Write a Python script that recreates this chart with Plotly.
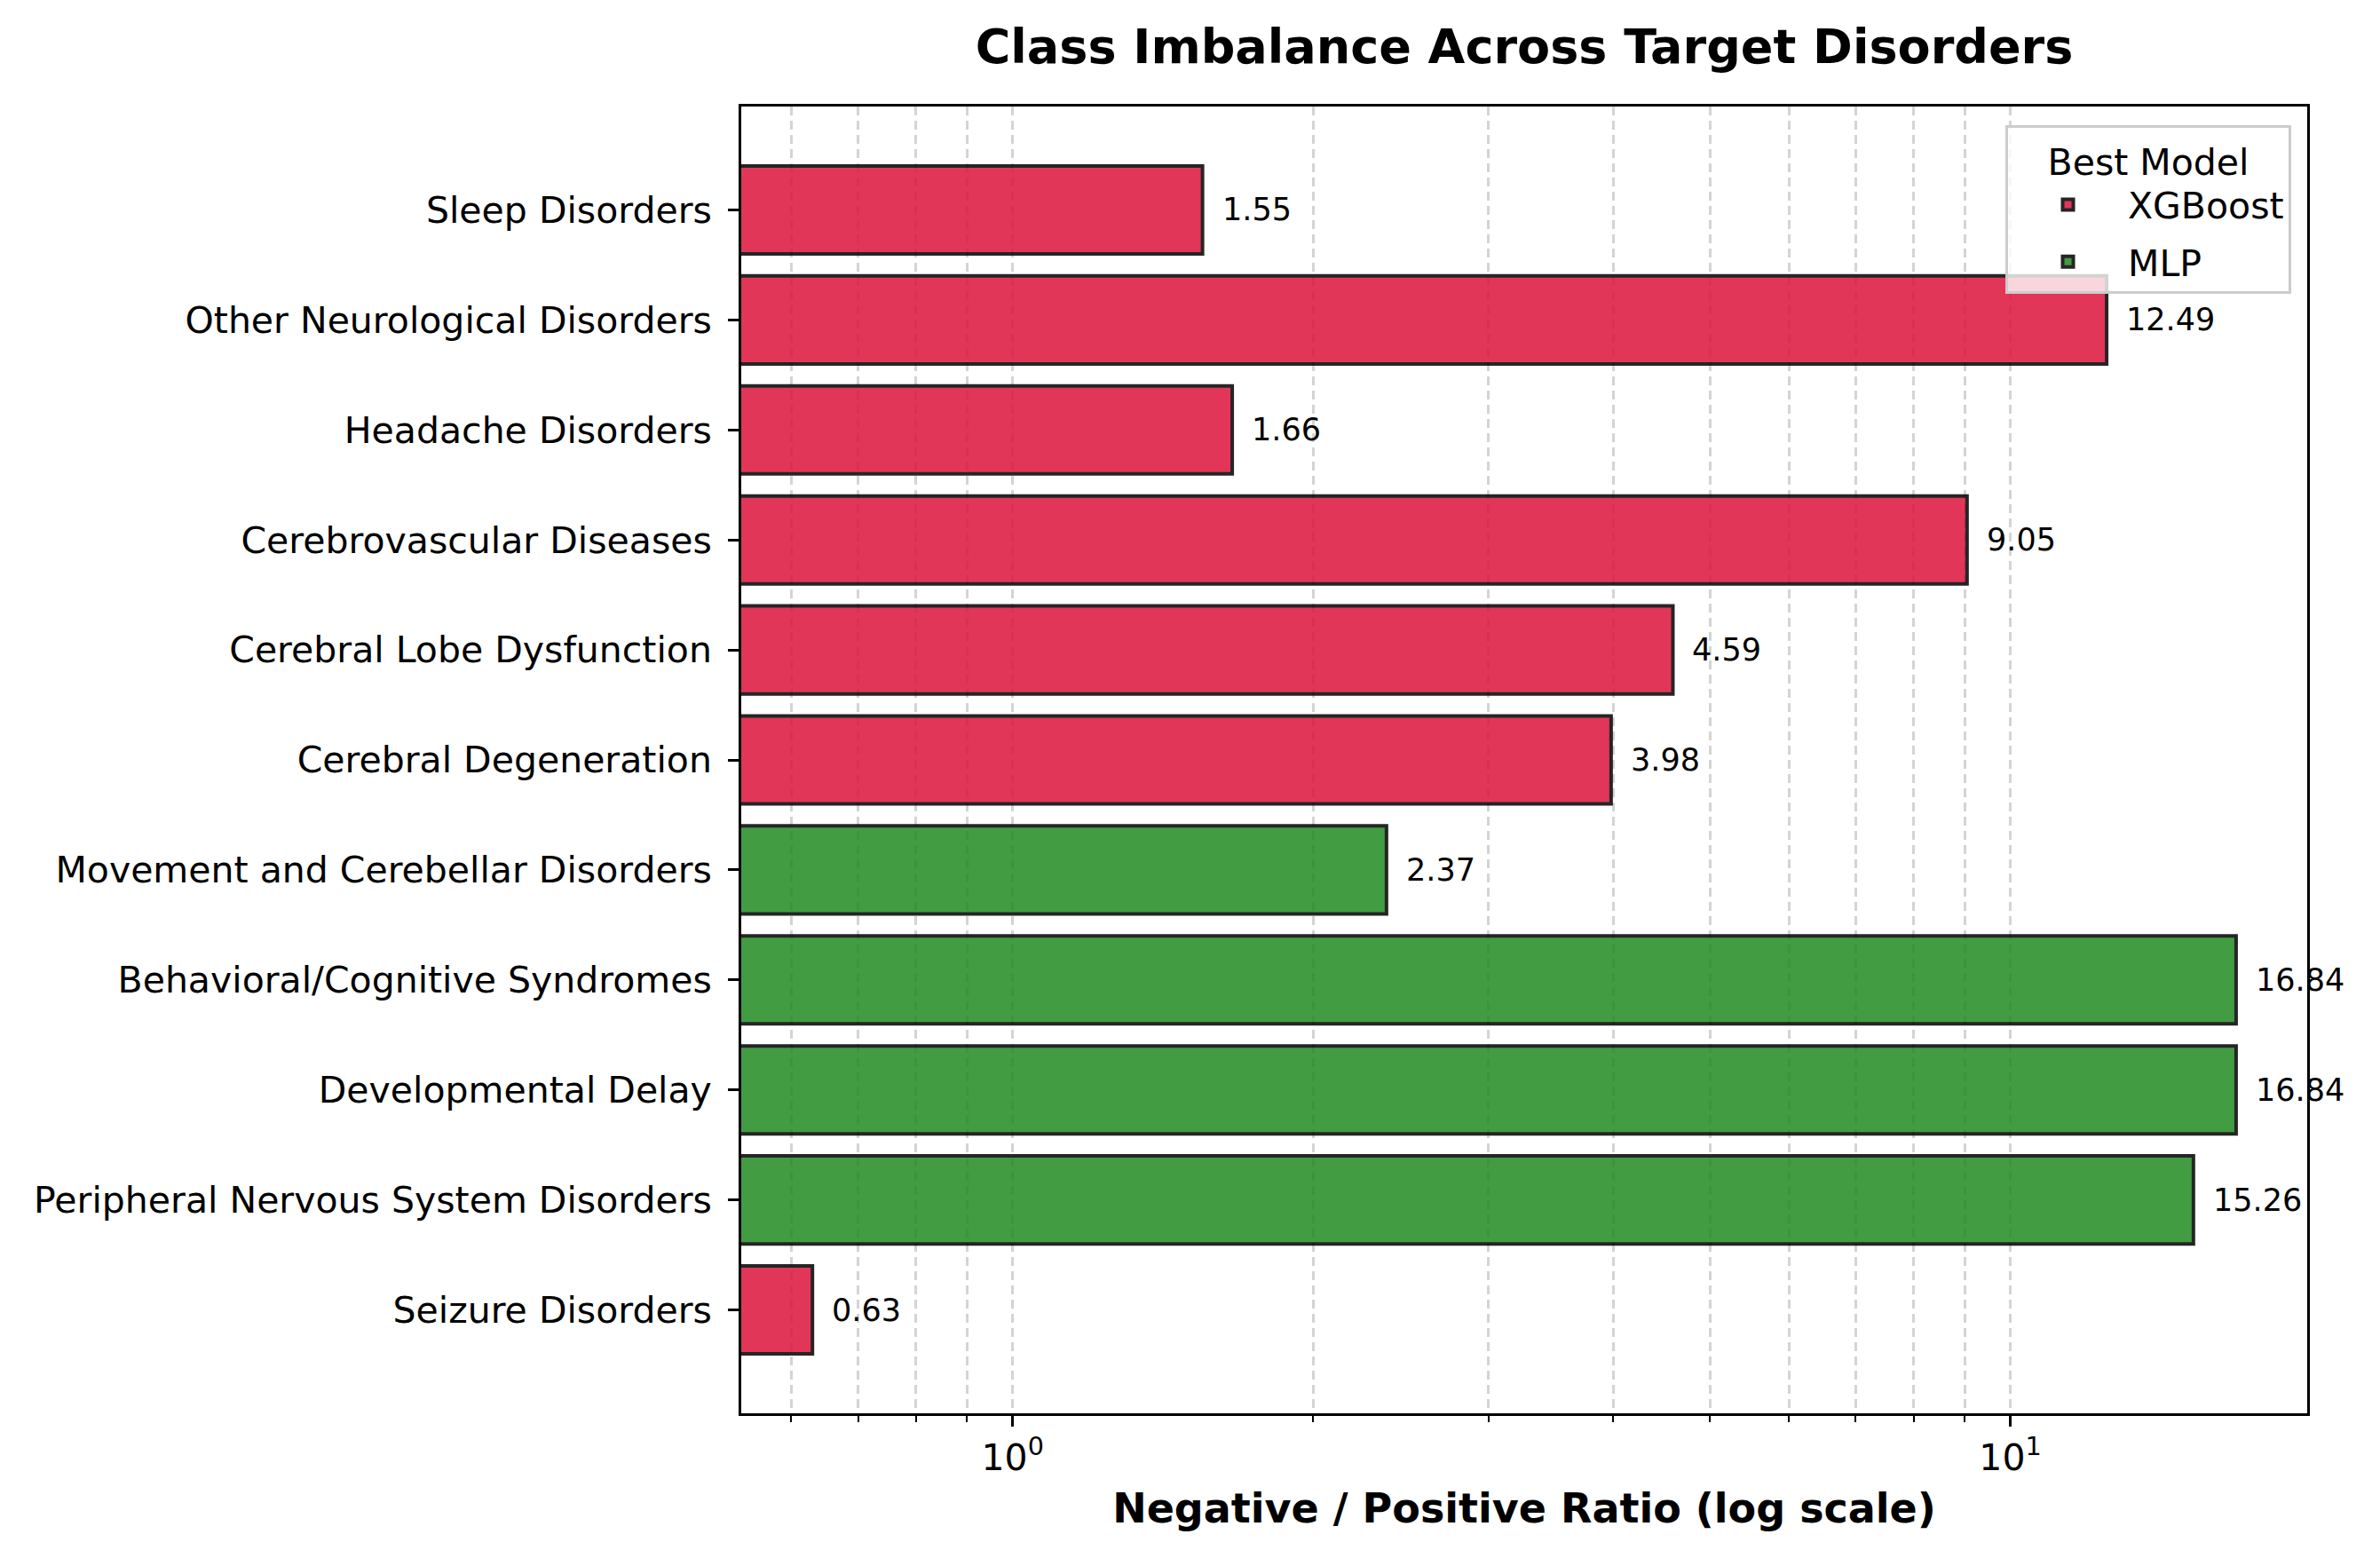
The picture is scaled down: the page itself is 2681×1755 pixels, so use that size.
import numpy as np
import plotly.graph_objects as go

# Data (bottom to top, as drawn)
disorders = [
    "Seizure Disorders",
    "Peripheral Nervous System Disorders",
    "Developmental Delay",
    "Behavioral/Cognitive Syndromes",
    "Movement and Cerebellar Disorders",
    "Cerebral Degeneration",
    "Cerebral Lobe Dysfunction",
    "Cerebrovascular Diseases",
    "Headache Disorders",
    "Other Neurological Disorders",
    "Sleep Disorders",
]
ratios = [0.63, 15.26, 16.84, 16.84, 2.37, 3.98, 4.59, 9.05, 1.66, 12.49, 1.55]
best_model = ["XGBoost", "MLP", "MLP", "MLP", "MLP", "XGBoost", "XGBoost",
              "XGBoost", "XGBoost", "XGBoost", "XGBoost"]
model_order = ["XGBoost", "MLP"]
model_colors = {"XGBoost": "#DC143C", "MLP": "#228B22"}
major_ticks = [1, 10]
major_labels = ["10<sup>0</sup>", "10<sup>1</sup>"]
minor_ticks = [0.6, 0.7, 0.8, 0.9, 2, 3, 4, 5, 6, 7, 8, 9]

FONT = "DejaVu Sans"
W, H = 2681, 1755
OFF = 8  # default body margin of the page
L, R, T, B = 835, 2599, 120, 1592

fig = go.Figure()
for m in model_order:
    ys = [d for d, bm in zip(disorders, best_model) if bm == m]
    xs = [v for v, bm in zip(ratios, best_model) if bm == m]
    fig.add_trace(go.Bar(
        x=xs, y=ys, orientation="h", name=m, width=0.8, legendgroup=m,
        marker=dict(color=model_colors[m], line=dict(color="black", width=4)),
        opacity=0.85,
    ))

for d, v in zip(disorders, ratios):
    fig.add_annotation(
        x=np.log10(v), y=d, xref="x", yref="y", text=f"{v:.2f}",
        showarrow=False, xanchor="left", yanchor="middle", xshift=20,
        font=dict(family=FONT, size=35, color="black"),
    )

grid_col = "rgba(160,160,160,0.45)"
fig.update_layout(
    width=W - OFF, height=H - OFF,
    margin=dict(l=L - OFF, r=W - R, t=T - OFF, b=H - B, pad=0),
    paper_bgcolor="white", plot_bgcolor="white",
    font=dict(family=FONT, size=41, color="black"),
    bargap=0.2,
    title=dict(
        text="<b>Class Imbalance Across Target Disorders</b>",
        x=((L + R) / 2 - OFF) / (W - OFF), xanchor="center", xref="container",
        y=1 - (52 - OFF) / (H - OFF), yanchor="middle", yref="container",
        font=dict(family=FONT, size=54, color="black"),
    ),
    legend=dict(
        title=dict(text="Best Model", side="top center",
                   font=dict(family=FONT, size=41)),
        font=dict(family=FONT, size=41),
        x=0.9898, xanchor="right", y=0.9857, yanchor="top",
        bgcolor="rgba(255,255,255,0.8)", bordercolor="#cccccc", borderwidth=3,
        itemwidth=125, tracegroupgap=8,
    ),
    xaxis=dict(
        type="log", range=[-0.272, 1.2976],
        tickmode="array", tickvals=major_ticks, ticktext=major_labels,
        ticks="outside", ticklen=12, tickwidth=2.8, tickcolor="black",
        showline=True, linecolor="black", linewidth=2.8, mirror=True,
        showgrid=True, gridcolor=grid_col, gridwidth=2.8, griddash="10px,6px",
        tickfont=dict(family=FONT, size=41),
        zeroline=False,
        minor=dict(tickmode="array", tickvals=minor_ticks, ticks="outside",
                   ticklen=7, tickwidth=2.2, tickcolor="black",
                   showgrid=True, gridcolor=grid_col, gridwidth=2.8,
                   griddash="10px,6px"),
        title=dict(text="<b>Negative / Positive Ratio (log scale)</b>",
                   font=dict(family=FONT, size=46), standoff=18),
    ),
    yaxis=dict(
        type="category", categoryorder="array", categoryarray=disorders,
        range=[-0.94, 10.94],
        ticks="outside", ticklen=12, tickwidth=2.8, tickcolor="black",
        showline=True, linecolor="black", linewidth=2.8, mirror=True,
        showgrid=False, zeroline=False,
        tickfont=dict(family=FONT, size=41),
        ticklabelstandoff=10,
    ),
)

fig.write_html("out.html")
